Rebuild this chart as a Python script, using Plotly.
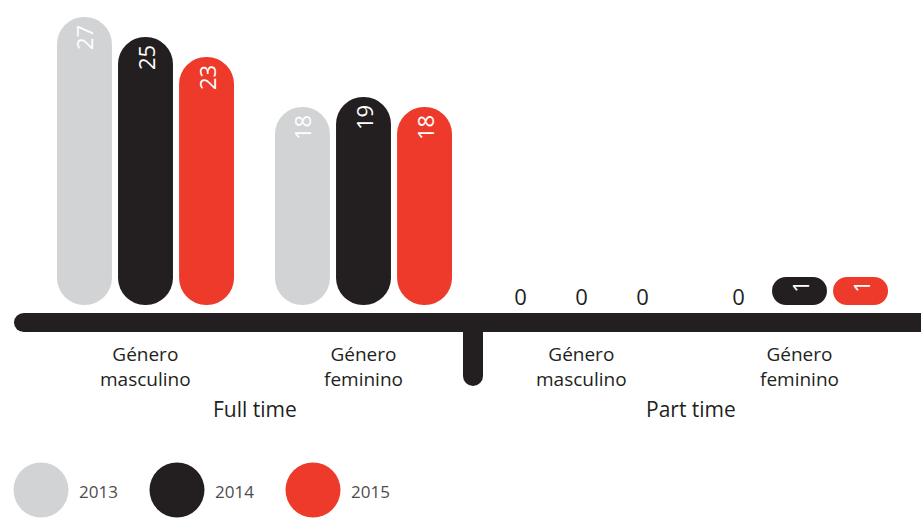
import plotly.graph_objects as go

# ── data ─────────────────────────────────────────────────────────────────────
categories = ["Género\nmasculino", "Género\nfeminino", "Género\nmasculino", "Género\nfeminino"]
groups = ["Full time", "Part time"]
years = ["2013", "2014", "2015"]
values_2013 = [27, 18, 0, 0]
values_2014 = [25, 19, 0, 1]
values_2015 = [23, 18, 0, 1]

# ── style ────────────────────────────────────────────────────────────────────
W, H = 921, 518
colors = ["#d1d3d4", "#231f20", "#ee3a2b"]
DARK = "#231f20"
FONT = "Open Sans"

BASE_PX = 305          # pixel row where bars stand
PX_PER_UNIT = 10.0
OFF = 1.8              # lift so tiny bars still show their round cap
X0_PX, X_STEP = 145.5, 218.0
SLOT = 0.28            # distance between bars within a group (x units)


def px_x(p):
    return p / W


def px_y(p):
    return 1 - p / H


fig = go.Figure()

series = [values_2013, values_2014, values_2015]
for i, (yr, vals) in enumerate(zip(years, series)):
    fig.add_trace(go.Bar(
        x=list(range(len(categories))),
        y=[v + OFF if v > 0 else None for v in vals],
        base=-OFF,
        name=yr,
        text=[str(v) if v > 0 else "" for v in vals],
        textposition="inside",
        insidetextanchor="end",
        textangle=-90,
        textfont=dict(family=FONT, size=22, color="white"),
        marker=dict(color=colors[i], line_width=0, cornerradius="50%"),
        showlegend=False,
        hoverinfo="skip",
    ))

# zero labels sit on the baseline, upright
zx, zt = [], []
for i, vals in enumerate(series):
    for c, v in enumerate(vals):
        if v == 0:
            zx.append(c + (i - 1) * SLOT)
            zt.append("0")
fig.add_trace(go.Scatter(
    x=zx, y=[-OFF - 0.5] * len(zx), mode="text", text=zt,
    textposition="top center",
    textfont=dict(family=FONT, size=22, color=DARK),
    showlegend=False, hoverinfo="skip",
))

shapes = []
# baseline bar with rounded left end
shapes.append(dict(type="rect", xref="paper", yref="paper",
                   x0=px_x(24), x1=1.01, y0=px_y(332), y1=px_y(313),
                   fillcolor=DARK, line_width=0, layer="above"))
shapes.append(dict(type="circle", xref="paper", yref="paper",
                   x0=px_x(14), x1=px_x(33.5), y0=px_y(332), y1=px_y(313),
                   fillcolor=DARK, line_width=0))
# separator between groups
shapes.append(dict(type="rect", xref="paper", yref="paper",
                   x0=px_x(463), x1=px_x(483), y0=px_y(376), y1=px_y(320),
                   fillcolor=DARK, line_width=0))
shapes.append(dict(type="circle", xref="paper", yref="paper",
                   x0=px_x(463), x1=px_x(483), y0=px_y(386), y1=px_y(366),
                   fillcolor=DARK, line_width=0))

annotations = []
for c, lab in enumerate(categories):
    annotations.append(dict(x=c, y=px_y(366), xref="x", yref="paper", yanchor="middle",
                            text=lab.replace("\n", "<br>"), showarrow=False,
                            font=dict(family=FONT, size=19, color=DARK)))
for g, lab in enumerate(groups):
    annotations.append(dict(x=2 * g + 0.5, y=px_y(409), xref="x", yref="paper",
                            yanchor="middle", text=lab, showarrow=False,
                            font=dict(family=FONT, size=21, color=DARK)))

# legend: big dots with year labels
for i, yr in enumerate(years):
    cx = 41 + i * 136
    shapes.append(dict(type="circle", xref="paper", yref="paper",
                       x0=px_x(cx - 27.5), x1=px_x(cx + 27.5),
                       y0=px_y(517.5), y1=px_y(462.5),
                       fillcolor=colors[i], line_width=0))
    annotations.append(dict(x=px_x(cx + 36), y=px_y(491), xref="paper", yref="paper",
                            text=yr, showarrow=False, xanchor="left", yanchor="middle",
                            font=dict(family=FONT, size=17, color="#4d4d4f")))

fig.update_layout(
    width=W, height=H,
    margin=dict(l=0, r=0, t=0, b=0),
    plot_bgcolor="white", paper_bgcolor="white",
    barmode="group", bargap=0.16, bargroupgap=0.1,
    xaxis=dict(range=[-X0_PX / X_STEP, (W - X0_PX) / X_STEP], visible=False, fixedrange=True),
    yaxis=dict(range=[(BASE_PX - H) / PX_PER_UNIT - OFF, BASE_PX / PX_PER_UNIT - OFF],
               visible=False, fixedrange=True),
    shapes=shapes,
    annotations=annotations,
    uniformtext=dict(minsize=8, mode="show"),
)

fig.write_html("out.html", config={"displayModeBar": False},
               post_script="document.body.style.margin='0';document.body.style.overflow='hidden';")
